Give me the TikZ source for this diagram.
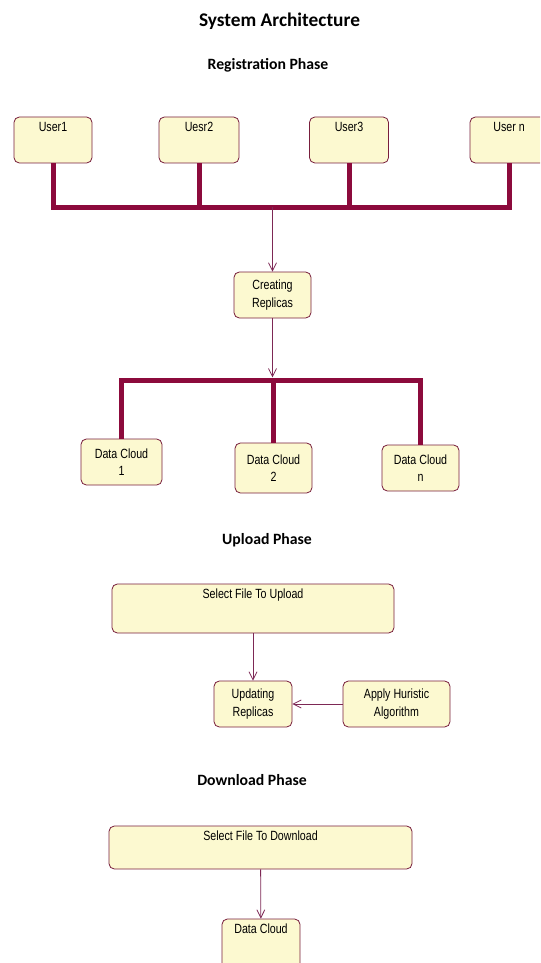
\documentclass[tikz,border=0pt]{standalone}
\usepackage{fontspec}
\setmainfont{Liberation Sans}
\newfontfamily\boxfont{Liberation Sans}[FakeStretch=0.8]
\newfontfamily\headfont{Carlito}
\usetikzlibrary{calc}
\usetikzlibrary{arrows.meta}

\definecolor{boxfill}{RGB}{252,249,208}
\definecolor{boxline}{RGB}{120,30,60}
\definecolor{buscol}{RGB}{140,10,60}
\definecolor{flowcol}{RGB}{125,40,85}

\tikzset{
  box/.style={draw=boxline, fill=boxfill, rounded corners=4pt, line width=0.6pt,
    font=\boxfont\fontsize{10}{13}\selectfont, align=center, inner sep=2pt},
  topbox/.style={box, text height=7pt, inner ysep=4pt},
  bus/.style={draw=buscol, line width=3.75pt},
  flow/.style={draw=flowcol, line width=0.6pt, -{Straight Barb[length=6pt,width=6pt]}},
  phase/.style={font=\headfont\bfseries\fontsize{11.8}{14}\selectfont},
}

\begin{document}
\begin{tikzpicture}[x=0.75pt,y=-0.75pt]

\useasboundingbox (0,0) rectangle (540,963);
\clip (0,0) rectangle (540,963);

\node[font=\headfont\bfseries\fontsize{14.5}{18}\selectfont] (title) at (279.5,21) {System Architecture};

% registration
\node[phase] (regphase) at (268,65) {Registration Phase};

\node[topbox, minimum width=58.5pt, text depth=19.5pt] (user1) at (53,140) {User1};
\node[topbox, minimum width=60pt, text depth=19.5pt] (user2) at (199,140) {Uesr2};
\node[topbox, minimum width=59.25pt, text depth=19.5pt] (user3) at (349,140) {User3};
\node[topbox, minimum width=58.5pt, text depth=19.5pt] (usern) at (509,140) {User n};

\coordinate (bus1) at (0,207);
\draw[bus] (user1.south) |- (usern.south |- bus1) -- (usern.south);
\draw[bus] (user2.south) -- (user2.south |- bus1);
\draw[bus] (user3.south) -- (user3.south |- bus1);

\node[box, minimum width=57.75pt, minimum height=34.5pt] (create) at (272.5,295) {Creating\\Replicas};
\draw[flow] (bus1 -| create) -- (create);

\node[box, minimum width=60.75pt, minimum height=34.5pt] (dc1) at (121.5,462) {Data Cloud\\1};
\node[box, minimum width=57.75pt, minimum height=37.5pt] (dc2) at (273.5,468) {Data Cloud\\2};
\node[box, minimum width=57.75pt, minimum height=34.5pt] (dcn) at (420.5,468) {Data Cloud\\n};

\coordinate (bus2) at (0,380);
\draw[bus] (dc1.north) |- (dcn.north |- bus2) -- (dcn.north);
\draw[bus] (dc2.north) -- (dc2.north |- bus2);
\draw[flow, shorten >=2pt] (create) -- (create |- bus2);

% upload
\node[phase] (upphase) at (267,540) {Upload Phase};

\node[topbox, minimum width=211.5pt, text depth=21.75pt] (selup) at (253,608.5) {Select File To Upload};
\node[box, minimum width=58.5pt, minimum height=34.5pt] (update) at (253,704) {Updating\\Replicas};
\node[box, minimum width=80.25pt, minimum height=34.5pt] (heur) at (396.5,704) {Apply Huristic\\Algorithm};

\draw[flow] (selup) -- (update);
\draw[flow] (heur) -- (update);

% download
\node[phase] (downphase) at (252,780) {Download Phase};

\node[topbox, minimum width=227.25pt, text depth=17.25pt] (seldown) at (260.5,847.5) {Select File To Download};
\node[topbox, minimum width=58.5pt, text depth=26.25pt] (cloud) at (261,946.5) {Data Cloud};

\draw[flow] (seldown) -- (cloud);

\end{tikzpicture}
\end{document}
